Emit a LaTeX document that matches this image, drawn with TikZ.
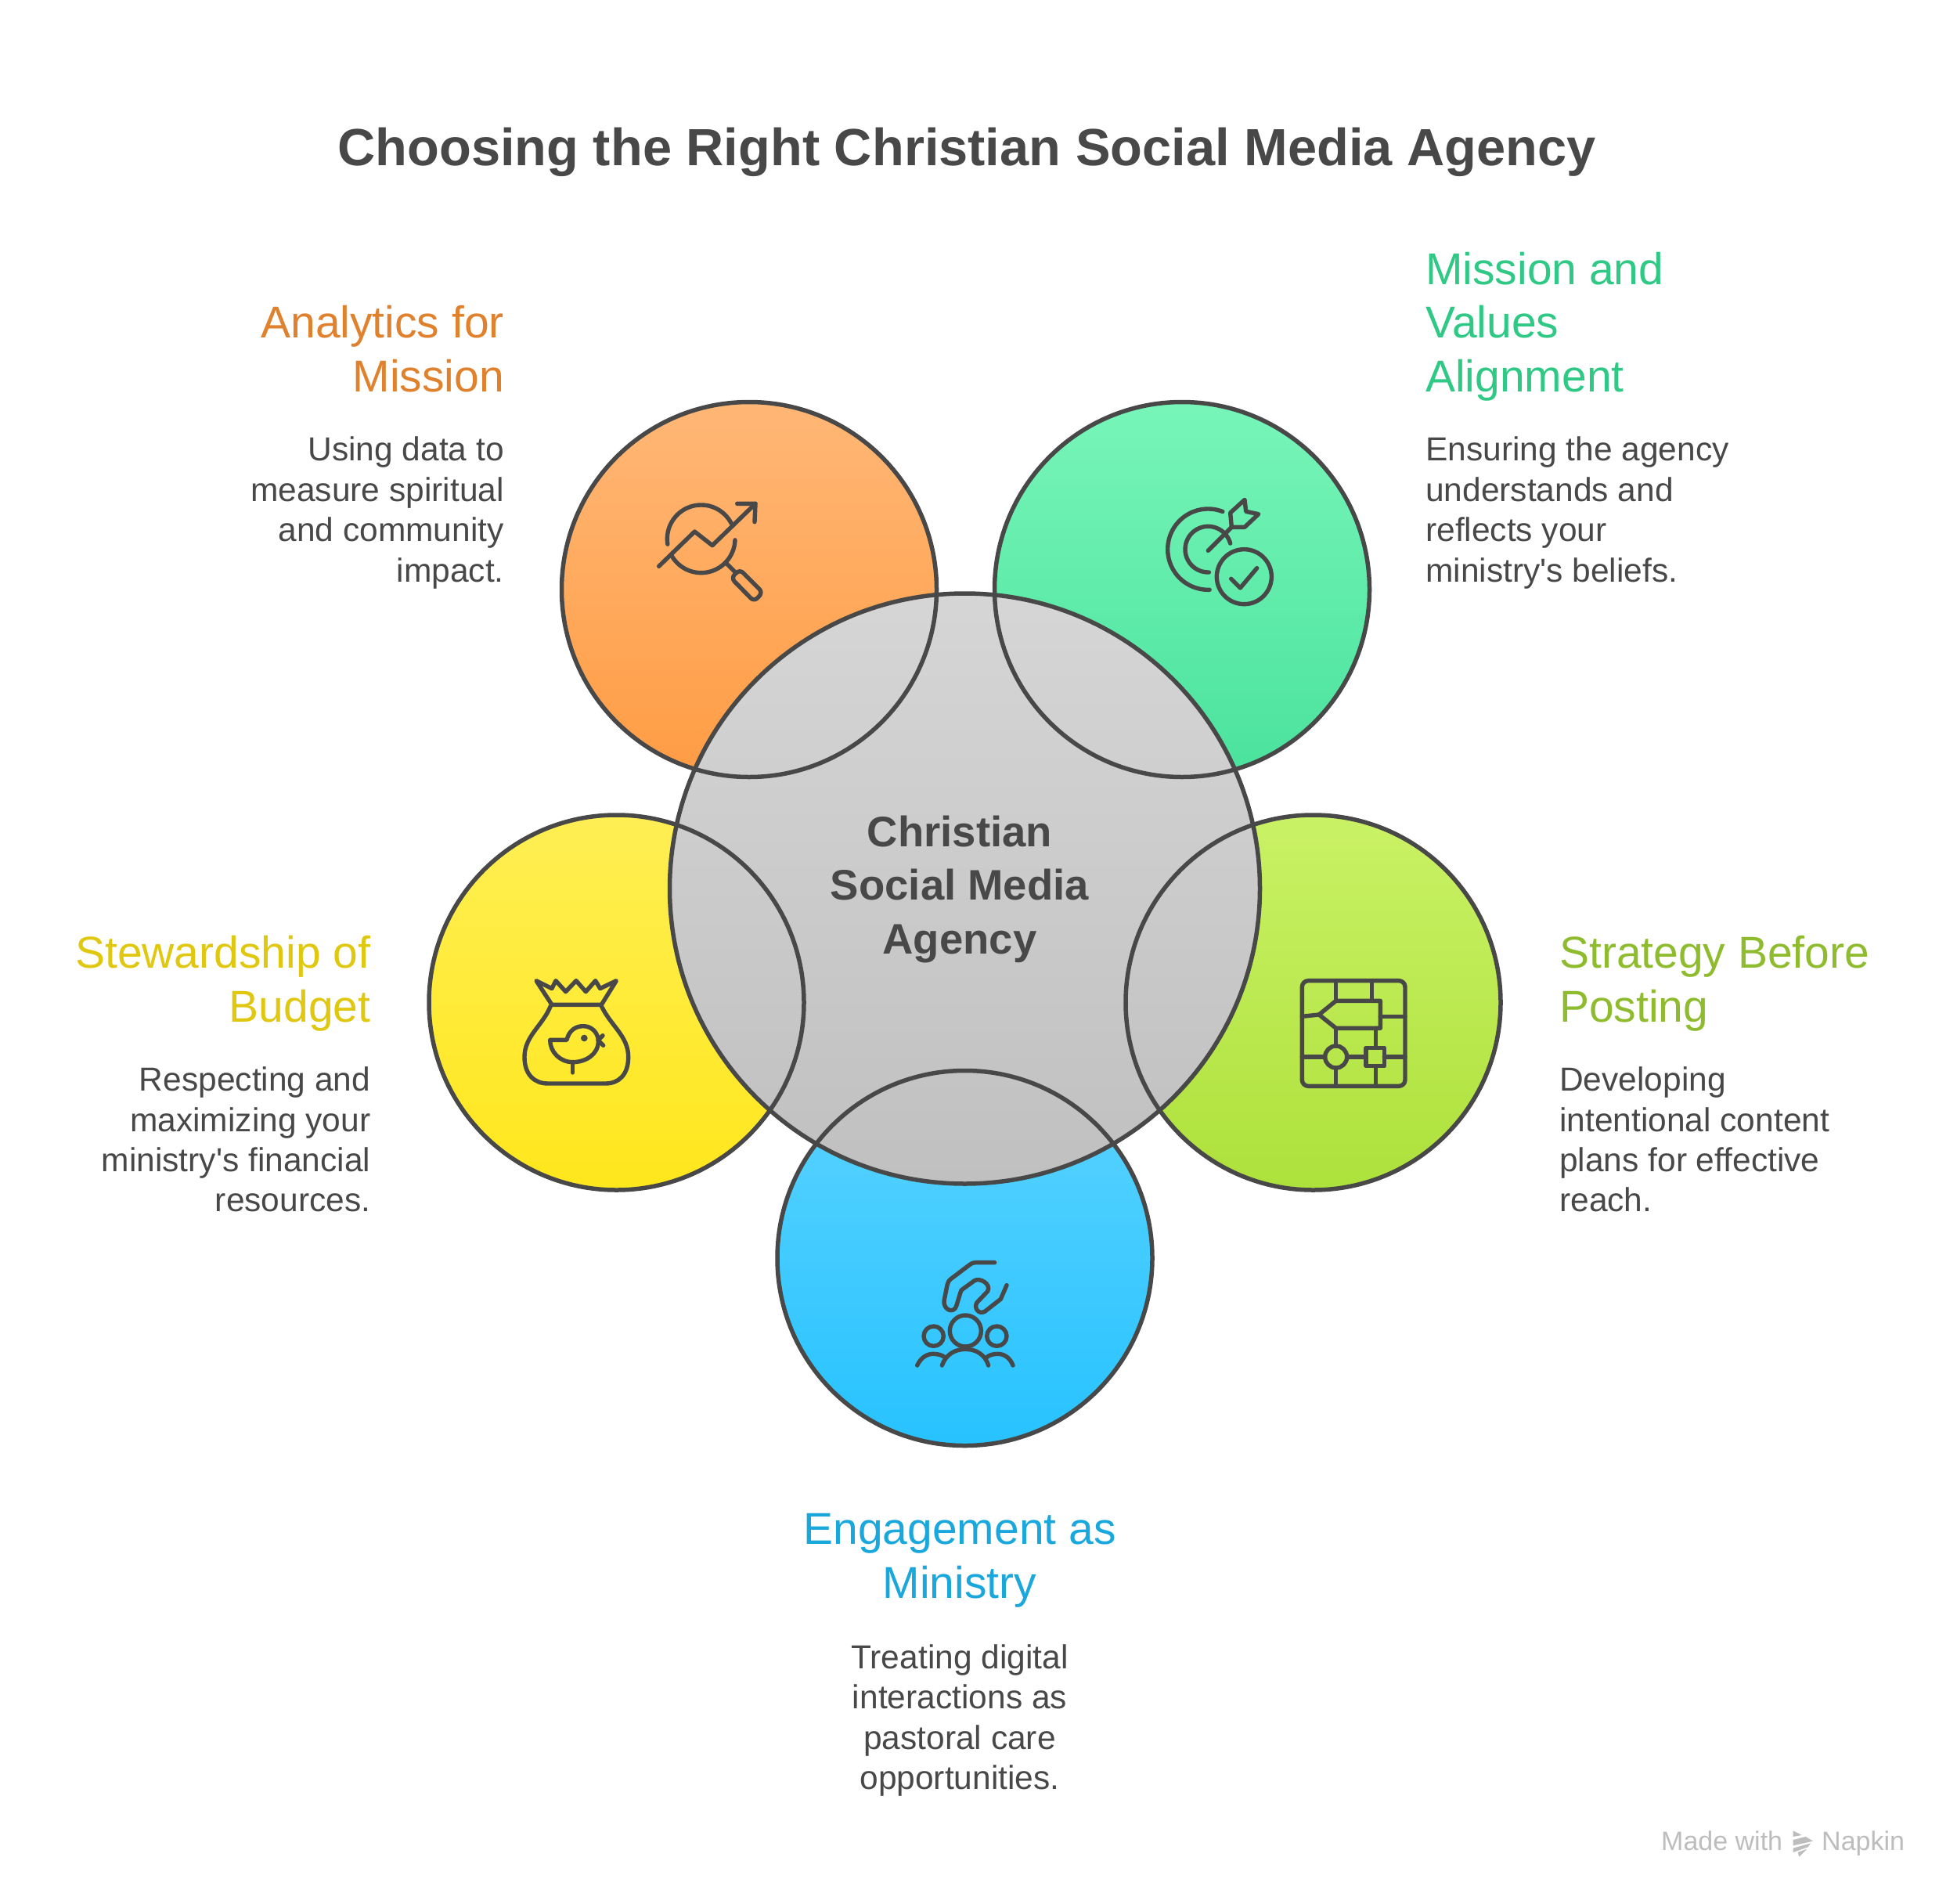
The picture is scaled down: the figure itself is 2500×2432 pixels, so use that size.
\documentclass[tikz,border=0pt]{standalone}
\usepackage{fontspec}
\setmainfont{Liberation Sans}[Ligatures=TeXOff]
\definecolor{ink}{HTML}{484848}
\definecolor{logogray}{HTML}{BDBDBD}
\definecolor{torange}{HTML}{E0812E}
\definecolor{tgreen}{HTML}{2FC985}
\definecolor{tlime}{HTML}{8FBC2F}
\definecolor{tyellow}{HTML}{E0C810}
\definecolor{tblue}{HTML}{1AA7DC}
\newcommand{\myarc}[5]{plot[domain=#4:#5,samples=40,smooth] ({#1+#3*cos(\x)},{#2+#3*sin(\x)})}
\pgfdeclareverticalshading{orangeshade}{100bp}{rgb(0bp)=(1,0.56,0.17); rgb(100bp)=(1,0.77,0.56)}
\pgfdeclareverticalshading{greenshade}{100bp}{rgb(0bp)=(0.2,0.85,0.56); rgb(100bp)=(0.56,1,0.78)}
\pgfdeclareverticalshading{yellowshade}{100bp}{rgb(0bp)=(1,0.89,0); rgb(100bp)=(1,0.95,0.44)}
\pgfdeclareverticalshading{limeshade}{100bp}{rgb(0bp)=(0.62,0.85,0.15); rgb(100bp)=(0.85,0.98,0.48)}
\pgfdeclareverticalshading{blueshade}{100bp}{rgb(0bp)=(0.05,0.73,1); rgb(100bp)=(0.46,0.86,1)}
\pgfdeclareverticalshading{hubshade}{100bp}{rgb(0bp)=(0.71,0.71,0.71); rgb(100bp)=(0.88,0.88,0.88)}
\tikzset{
  petal/.style={circle,minimum size=479pt,inner sep=0pt,outer sep=0pt},
  hub/.style={circle,minimum size=754pt,inner sep=0pt,outer sep=0pt},
  ring/.style={draw=ink,line width=5.5pt},
  icon/.style={draw=ink,line width=5.4pt,line cap=round,line join=round},
  heading/.style={inner sep=0pt,font=\fontsize{57}{68.6}\selectfont},
  body/.style={inner sep=0pt,text=ink,font=\fontsize{42.5}{51.4}\selectfont},
  icongrid/.style={x=0.33333pt,y=-0.33333pt},
}
\begin{document}
\begin{tikzpicture}[x=1pt,y=-1pt]
\useasboundingbox (0,0) rectangle (2500,2432);
\fill[white] (0,0) rectangle (2500,2432);
\node[inner sep=0pt,text=ink,font=\fontsize{66.8}{84}\selectfont\bfseries] (title) at (1235,194) {Choosing the Right Christian Social Media Agency};

% filled discs
\node[petal,shade,shading=orangeshade] (orangefill) at (957,753) {};
\node[petal,shade,shading=greenshade] (greenfill) at (1510,753) {};
\node[petal,shade,shading=yellowshade] (yellowfill) at (787.5,1280.5) {};
\node[petal,shade,shading=limeshade] (limefill) at (1677.5,1280.5) {};
\node[petal,shade,shading=blueshade] (bluefill) at (1232.5,1607) {};
\node[hub,ring,shade,shading=hubshade] (hubdisc) at (1232.5,1135) {};
% outlines over the hub
\node[petal,ring] (orangering) at (orangefill) {};
\node[petal,ring] (greenring) at (greenfill) {};
\node[petal,ring] (yellowring) at (yellowfill) {};
\node[petal,ring] (limering) at (limefill) {};
\node[petal,ring] (bluering) at (bluefill) {};

\node[inner sep=0pt,text=ink,align=center,font=\fontsize{54.5}{68.6}\selectfont\bfseries] (hubtext) at (1226,1136) {Christian\\Social Media\\Agency};

% texts
\node[heading,text=torange,anchor=east,align=right] (h1) at (644,445.5) {Analytics for\\Mission};
\node[body,anchor=east,align=right] (b1) at (644,655) {Using data to\\measure spiritual\\and community\\impact.};
\node[heading,text=tgreen,anchor=west,align=left] (h2) at (1821,417) {Mission and\\Values\\Alignment};
\node[body,anchor=west,align=left] (b2) at (1821,655) {Ensuring the agency\\understands and\\reflects your\\ministry's beliefs.};
\node[heading,text=tlime,anchor=west,align=left] (h3) at (1992,1256.5) {Strategy Before\\Posting};
\node[body,anchor=west,align=left] (b3) at (1992,1455.5) {Developing\\intentional content\\plans for effective\\reach.};
\node[heading,text=tyellow,anchor=east,align=right] (h4) at (473.5,1256.5) {Stewardship of\\Budget};
\node[body,anchor=east,align=right] (b4) at (473.5,1455.5) {Respecting and\\maximizing your\\ministry's financial\\resources.};
\node[heading,text=tblue,align=center] (h5) at (1226,1993.5) {Engagement as\\Ministry};
\node[body,align=center] (b5) at (1226,2197.5) {Treating digital\\interactions as\\pastoral care\\opportunities.};

% analytics icon
\begin{scope}[shift={(800,600)},icongrid]
\draw[icon] \myarc{287}{265}{130}{171}{333};
\draw[icon] \myarc{287}{265}{130}{2}{150};
\draw[icon] (125,370) -- (262,237) -- (330,290) -- (495,130);
\draw[icon] (425,130) -- (495,130) -- (492,200);
\draw[icon] (385,360) -- (415,390);
\draw[icon,rounded corners=6pt] (435,382) -- (523,470) -- (490,505) -- (402,415) -- cycle;
\end{scope}
% target icon
\begin{scope}[shift={(1460,610)},icongrid]
\draw[icon] \myarc{250}{275}{155}{88}{291};
\draw[icon] \myarc{250}{275}{88}{88}{345};
\draw[icon] (250,280) -- (340,190);
\draw[icon] (340,190) -- (335,135) -- (390,85) -- (395,130) -- (443,140) -- (390,190) -- cycle;
\draw[icon] (388,380) circle[radius=105];
\draw[icon] (338,388) -- (373,423) -- (437,347);
\end{scope}
% flowchart icon
\begin{scope}[shift={(1630,1220)},icongrid]
\draw[icon,rounded corners=8pt] (100,98) rectangle (495,502);
\draw[icon] (100,235) -- (165,228);
\draw[icon] (400,235) -- (495,235);
\draw[icon] (100,390) -- (188,390);
\draw[icon] (272,390) -- (345,390);
\draw[icon] (415,390) -- (495,390);
\draw[icon] (230,98) -- (230,175);
\draw[icon] (367,98) -- (367,175);
\draw[icon] (165,228) -- (230,175) -- (400,175) -- (400,280) -- (230,280) -- cycle;
\draw[icon] (230,280) -- (230,348);
\draw[icon] (230,390) circle[radius=42];
\draw[icon] (345,355) rectangle (415,425);
\draw[icon] (383,280) -- (383,355);
\draw[icon] (383,425) -- (383,502);
\draw[icon] (230,432) -- (230,502);
\end{scope}
% bag icon
\begin{scope}[shift={(650,1230)},icongrid]
\draw[icon] (105,68) -- (165,98) -- (180,68) -- (218,110) -- (258,68) -- (295,110) -- (332,68) -- (350,98) -- (412,68) -- (355,160) -- (165,160) -- cycle;
\draw[icon] (160,165) .. controls (130,240) and (60,280) .. (60,360) .. controls (60,430) and (100,462) .. (150,462) -- (370,462) .. controls (420,462) and (458,430) .. (458,360) .. controls (458,280) and (390,240) .. (355,165);
\draw[icon] (158,295) -- (222,295) .. controls (230,260) and (255,242) .. (285,242) .. controls (320,242) and (343,270) .. (343,300) .. controls (343,350) and (295,380) .. (245,380) .. controls (195,380) and (158,340) .. (158,295) -- cycle;
\draw[icon] (360,278) -- (342,296) -- (362,316);
\fill[ink] (289,288) circle[radius=13];
\draw[icon] (245,380) -- (245,420);
\end{scope}
% people icon
\begin{scope}[shift={(1150,1590)},icongrid]
\draw[icon] (362,68) -- (290,68) .. controls (280,68) and (275,70) .. (268,75) -- (195,130) .. controls (185,138) and (182,145) .. (180,155) -- (168,215) .. controls (165,250) and (205,265) .. (215,235) -- (230,185) .. controls (232,175) and (235,172) .. (242,168) -- (285,137) .. controls (305,125) and (350,150) .. (335,178) -- (295,220) .. controls (280,240) and (300,270) .. (325,255) -- (385,208) -- (408,155);
\draw[icon] (250,330) circle[radius=60];
\draw[icon] (128,350) circle[radius=38];
\draw[icon] (370,350) circle[radius=38];
\draw[icon] (160,462) .. controls (175,420) and (210,400) .. (250,400) .. controls (290,400) and (325,420) .. (338,462);
\draw[icon] (65,462) .. controls (80,430) and (105,418) .. (125,418) .. controls (145,418) and (160,422) .. (172,432);
\draw[icon] (330,432) .. controls (342,422) and (355,418) .. (375,418) .. controls (395,418) and (420,430) .. (432,462);
\end{scope}
% watermark
\node[inner sep=0pt,anchor=base west,text=logogray,font=\fontsize{34}{40}\selectfont] (made) at (2122,2363) {Made with};
\node[inner sep=0pt,anchor=base west,text=logogray,font=\fontsize{34}{40}\selectfont] (napkin) at (2327,2363) {Napkin};
\begin{scope}[shift={(2100,2320)},icongrid]
\fill[logogray] (572,55) -- (605,72) -- (572,78) -- cycle;
\fill[logogray] (572,90) -- (620,78) -- (648,95) -- (572,112) -- cycle;
\fill[logogray] (572,122) -- (640,103) -- (628,118) -- (572,138) -- cycle;
\fill[logogray] (595,155) -- (625,125) -- (590,138) -- cycle;
\end{scope}
\end{tikzpicture}
\end{document}
